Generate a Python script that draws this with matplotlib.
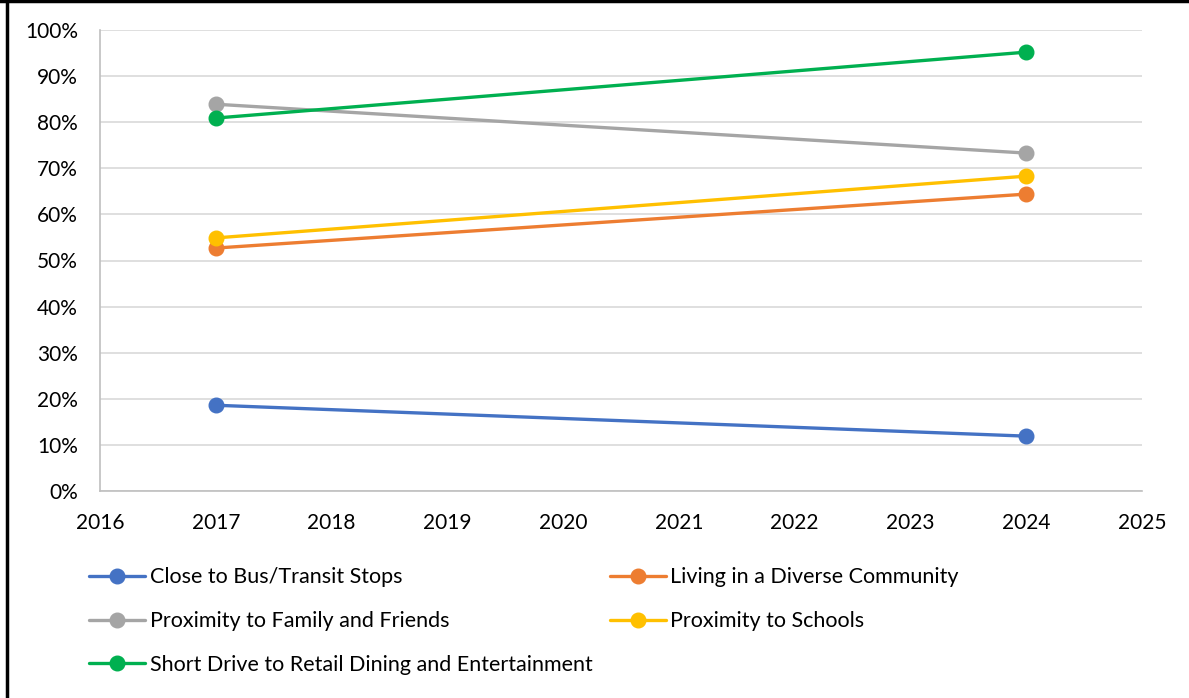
import matplotlib.pyplot as plt
from matplotlib.lines import Line2D
from matplotlib.ticker import PercentFormatter

years = [2017, 2024]
series_names = [
    "Close to Bus/Transit Stops",
    "Living in a Diverse Community",
    "Proximity to Family and Friends",
    "Proximity to Schools",
    "Short Drive to Retail Dining and Entertainment",
]
bus_transit = [18.6, 11.9]
diverse_community = [52.7, 64.4]
family_friends = [83.9, 73.3]
schools = [54.9, 68.3]
retail_dining = [80.9, 95.2]
colors = ["#4472C4", "#ED7D31", "#A5A5A5", "#FFC000", "#00B050"]

plt.rcParams['font.family'] = ['Lato', 'DejaVu Sans']

fig = plt.figure(figsize=(11.89, 6.98), dpi=100)
ax = fig.add_axes([100 / 1189, 1 - 491 / 698, 1042 / 1189, 461 / 698])

all_series = [bus_transit, diverse_community, family_friends, schools, retail_dining]
handles = []
for name, vals, c in zip(series_names, all_series, colors):
    h, = ax.plot(years, vals, color=c, lw=2.4, marker='o', ms=10.5, label=name,
                 solid_capstyle='round')
    handles.append(h)

ax.set_xlim(2016, 2025)
ax.set_ylim(0, 100)
ax.set_xticks(range(2016, 2026))
ax.set_yticks(range(0, 101, 10))
ax.yaxis.set_major_formatter(PercentFormatter(decimals=0))
ax.grid(axis='y', color='#D9D9D9', lw=1.2)
ax.set_axisbelow(True)
for s in ['top', 'right']:
    ax.spines[s].set_visible(False)
for s in ['left', 'bottom']:
    ax.spines[s].set_color('#BFBFBF')
    ax.spines[s].set_linewidth(1.2)
ax.tick_params(length=0, labelsize=15, colors='#000000')
ax.tick_params(axis='y', pad=16)
ax.tick_params(axis='x', pad=16)

# legend: row-major order like the original (matplotlib fills columns first)
order = [0, 2, 4, 1, 3]
leg = fig.legend([handles[i] for i in order], [series_names[i] for i in order],
                 ncol=2, loc='upper left', bbox_to_anchor=(70 / 1189, 1 - 548 / 698),
                 frameon=False, fontsize=15.5, handlelength=2.6, handletextpad=0.2,
                 columnspacing=0.8, labelspacing=1.1)

# frame edges (top and left) of the original image
fig.add_artist(Line2D([0, 1], [0.998, 0.998], color='black', lw=2.5, transform=fig.transFigure))
fig.add_artist(Line2D([6.5 / 1189, 6.5 / 1189], [0, 1], color='black', lw=2.5, transform=fig.transFigure))

fig.savefig("out.png", dpi=100)
